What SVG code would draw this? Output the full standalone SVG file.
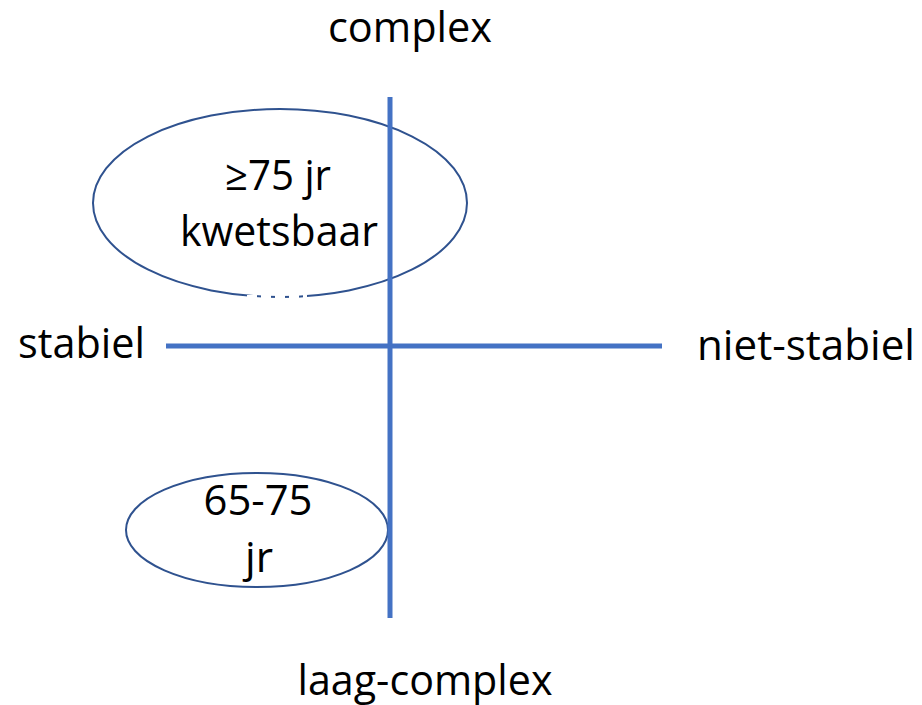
<svg xmlns="http://www.w3.org/2000/svg" width="922" height="705" viewBox="0 0 922 705">
<style>
text{font-family:"Open Sans","Noto Sans","Liberation Sans",sans-serif;font-size:42px;fill:#000;}
.ell{fill:none;stroke:#2F528F;stroke-width:2}
.axis{stroke:#4472C4;stroke-width:5;fill:none}
</style>
<rect width="922" height="705" fill="#fff"/>
<g id="labels">
<text x="410" y="42" text-anchor="middle" textLength="164" lengthAdjust="spacingAndGlyphs">complex</text>
<text x="18" y="358" textLength="127" lengthAdjust="spacingAndGlyphs">stabiel</text>
<text x="697" y="360" textLength="218" lengthAdjust="spacingAndGlyphs">niet-stabiel</text>
<text x="425" y="695" text-anchor="middle" textLength="255" lengthAdjust="spacingAndGlyphs">laag-complex</text>
</g>
<g id="node-75">
<ellipse class="ell" cx="280" cy="203" rx="187" ry="94"/>
<line x1="247" y1="297" x2="307" y2="297" stroke="#fff" stroke-width="4" stroke-dasharray="10,4"/>
<text x="278" y="190" text-anchor="middle" textLength="106" lengthAdjust="spacingAndGlyphs">≥75 jr</text>
<text x="279" y="246" text-anchor="middle" textLength="198" lengthAdjust="spacingAndGlyphs">kwetsbaar</text>
</g>
<g id="node-65">
<ellipse class="ell" cx="257" cy="530" rx="131" ry="57"/>
<text x="258" y="515" text-anchor="middle" textLength="109" lengthAdjust="spacingAndGlyphs">65-75</text>
<text x="259" y="572" text-anchor="middle" textLength="28" lengthAdjust="spacingAndGlyphs">jr</text>
</g>
<g id="connectors">
<line class="axis" x1="390" y1="97" x2="390" y2="618"/>
<line class="axis" x1="166" y1="346" x2="662" y2="346"/>
</g>
</svg>
